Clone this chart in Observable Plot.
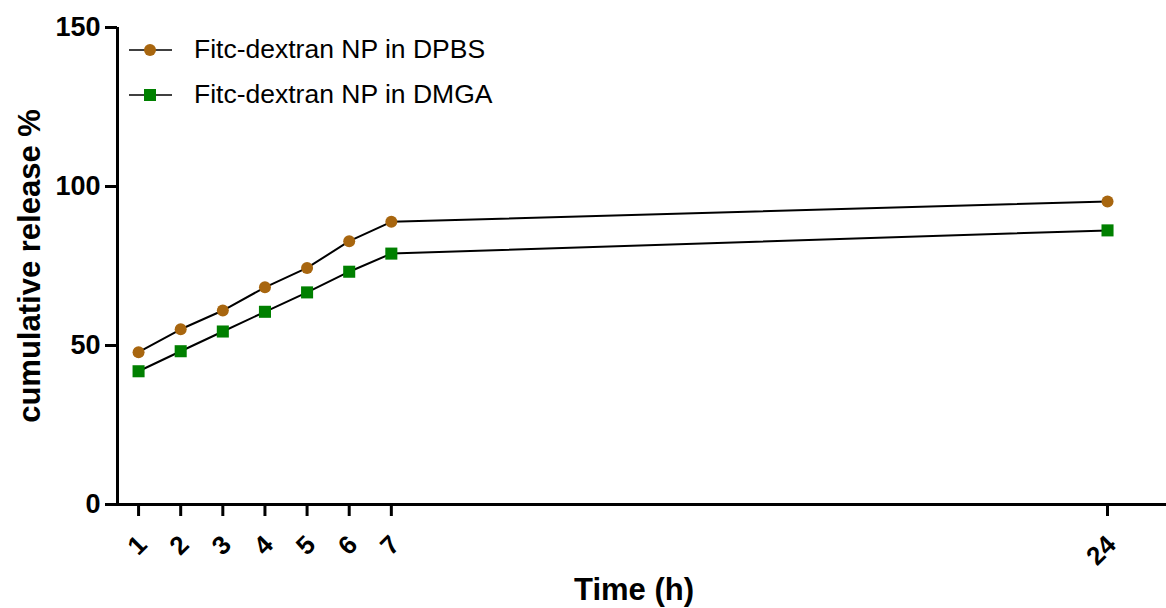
<!DOCTYPE html>
<html>
<head>
<meta charset="utf-8">
<script src="https://cdn.jsdelivr.net/npm/d3@7"></script>
<script src="https://cdn.jsdelivr.net/npm/@observablehq/plot@0.6"></script>
<style>
  html, body { margin: 0; padding: 0; background: #fff; }
  #wrap { position: relative; width: 1166px; height: 608px; font-family: Arial, "Liberation Sans", sans-serif; }
  #legend { position: absolute; left: 129px; top: 27px; }
  .row { display: flex; align-items: center; height: 45px; }
  .row svg { margin-right: 22px; }
  .row span { font-size: 26.5px; color: #000; }
</style>
</head>
<body>
<div id="wrap"></div>
<script>
const hours = [1, 2, 3, 4, 5, 6, 7, 24];
const dpbs = [47.9, 55.1, 61.0, 68.3, 74.4, 82.8, 88.9, 95.3];
const dmga = [41.9, 48.2, 54.4, 60.6, 66.7, 73.2, 78.9, 86.2];
const seriesNames = ["Fitc-dextran NP in DPBS", "Fitc-dextran NP in DMGA"];
const seriesColors = ["#A8660F", "#008000"];
const seriesSymbols = ["circle", "square"];
const yTicks = [0, 50, 100, 150];
const xTicks = [1, 2, 3, 4, 5, 6, 7, 24];
const xDomain = [0.5, 25.4];
const yDomain = [0, 150];
const xTitle = "Time (h)";
const yTitle = "cumulative release %";

const rows = [];
hours.forEach((h, i) => {
  rows.push({hour: h, value: dpbs[i], series: seriesNames[0]});
  rows.push({hour: h, value: dmga[i], series: seriesNames[1]});
});
const font = "Arial, 'Liberation Sans', sans-serif";

const chart = Plot.plot({
  width: 1166,
  height: 608,
  marginLeft: 117,
  marginTop: 27,
  marginBottom: 104,
  marginRight: 0,
  style: {fontFamily: font, background: "#fff"},
  x: {domain: xDomain, axis: null},
  y: {domain: yDomain, axis: null},
  marks: [
    Plot.axisY(yTicks, {tickSize: 12, tickPadding: 5, strokeWidth: 3, fontSize: 27, fontWeight: "bold", fill: "#000", label: null}),
    Plot.axisX(xTicks, {tickSize: 12, strokeWidth: 3, tickFormat: () => "", label: null}),
    Plot.text(xTicks, {x: d => d, frameAnchor: "bottom", dy: 36, dx: 4, rotate: -45, textAnchor: "end", lineAnchor: "middle", fontSize: 26, fontWeight: "bold", fill: "#000"}),
    Plot.ruleX([xDomain[0]], {strokeWidth: 3, stroke: "#000"}),
    Plot.ruleY([yDomain[0]], {strokeWidth: 3, stroke: "#000"}),
    Plot.line(rows, {x: "hour", y: "value", z: "series", stroke: "#000", strokeWidth: 2}),
    Plot.dot(rows.filter(d => d.series === seriesNames[0]), {x: "hour", y: "value", r: 6, fill: seriesColors[0], symbol: "circle"}),
    Plot.dot(rows.filter(d => d.series === seriesNames[1]), {x: "hour", y: "value", r: 6.8, fill: seriesColors[1], symbol: "square"}),
    Plot.text([yTitle], {frameAnchor: "left", dx: -87, rotate: -90, textAnchor: "middle", lineAnchor: "middle", fontSize: 31, fontWeight: "bold", fill: "#000"}),
    Plot.text([xTitle], {frameAnchor: "bottom", dy: 86, dx: -8, textAnchor: "middle", lineAnchor: "middle", fontSize: 31, fontWeight: "bold", fill: "#000"})
  ]
});

const wrap = document.getElementById("wrap");
wrap.appendChild(chart);

const legend = document.createElement("div");
legend.id = "legend";
seriesNames.forEach((name, i) => {
  const row = document.createElement("div");
  row.className = "row";
  const marker = seriesSymbols[i] === "circle"
    ? `<circle cx="21" cy="8" r="6" fill="${seriesColors[i]}"/>`
    : `<rect x="15" y="2" width="12" height="12" fill="${seriesColors[i]}"/>`;
  row.innerHTML = `<svg width="43" height="16"><line x1="0" x2="43" y1="8" y2="8" stroke="#000" stroke-width="1.5"/>${marker}</svg><span>${name}</span>`;
  legend.appendChild(row);
});
wrap.appendChild(legend);
</script>
</body>
</html>
